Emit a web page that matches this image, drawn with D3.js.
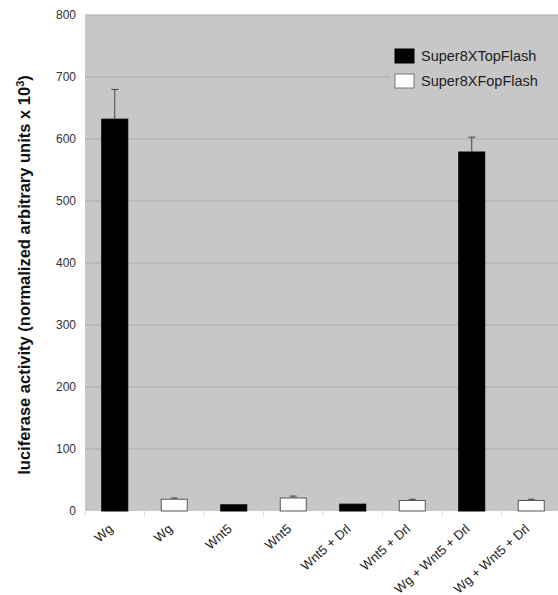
<!DOCTYPE html>
<html>
<head>
<meta charset="utf-8">
<script src="https://cdn.jsdelivr.net/npm/d3@7"></script>
<style>
  body { margin: 0; background: #fff; }
  svg { display: block; font-family: "Liberation Sans", Arial, sans-serif; }
</style>
</head>
<body>
<svg id="chart" width="558" height="595"></svg>
<script>
// data
const categories = ['Wg', 'Wg', 'Wnt5', 'Wnt5', 'Wnt5 + Drl', 'Wnt5 + Drl', 'Wg + Wnt5 + Drl', 'Wg + Wnt5 + Drl'];
const reporter = ['top', 'fop', 'top', 'fop', 'top', 'fop', 'top', 'fop'];
const values = [632, 19, 10, 21, 11, 17, 579, 17];
const errors = [48, 2, 0, 3, 0, 2, 24, 2];
const yTicks = [0, 100, 200, 300, 400, 500, 600, 700, 800];
const legendLabels = ['Super8XTopFlash', 'Super8XFopFlash'];

const svg = d3.select('#chart');
const margin = { left: 85, top: 15 };
const plotW = 476, plotH = 496;

const x = d3.scaleBand()
  .domain(d3.range(categories.length))
  .range([margin.left, margin.left + plotW]);
const y = d3.scaleLinear().domain([0, 800]).range([margin.top + plotH, margin.top]);

// plot background
svg.append('rect')
  .attr('x', margin.left).attr('y', margin.top)
  .attr('width', plotW).attr('height', plotH)
  .attr('fill', '#c7c7c7');

// gridlines
svg.append('g').selectAll('line')
  .data(yTicks.filter(d => d > 0))
  .enter().append('line')
  .attr('x1', margin.left).attr('x2', margin.left + plotW)
  .attr('y1', d => y(d)).attr('y2', d => y(d))
  .attr('stroke', '#ababab').attr('stroke-width', 1);

// y tick labels
svg.append('g').selectAll('text')
  .data(yTicks)
  .enter().append('text')
  .attr('x', 76).attr('y', d => y(d) + 4)
  .attr('text-anchor', 'end')
  .attr('font-size', 12)
  .attr('fill', '#333')
  .text(d => d);

// x axis ticks at band boundaries
svg.append('g').selectAll('line')
  .data(d3.range(categories.length + 1))
  .enter().append('line')
  .attr('x1', i => margin.left + i * x.step()).attr('x2', i => margin.left + i * x.step())
  .attr('y1', y(0)).attr('y2', y(0) + 5)
  .attr('stroke', '#ddd');

// bars
const barW = 26;
svg.append('g').selectAll('rect')
  .data(values)
  .enter().append('rect')
  .attr('x', (d, i) => x(i) + x.bandwidth() / 2 - barW / 2)
  .attr('y', d => y(d))
  .attr('width', barW)
  .attr('height', d => y(0) - y(d))
  .attr('fill', (d, i) => reporter[i] === 'top' ? '#000' : '#fff')
  .attr('stroke', (d, i) => reporter[i] === 'top' ? '#000' : '#555')
  .attr('stroke-width', 1);

// error bars
const eb = svg.append('g').attr('stroke', '#444').attr('stroke-width', 1);
values.forEach((v, i) => {
  if (!errors[i]) return;
  const cx = x(i) + x.bandwidth() / 2;
  eb.append('line').attr('x1', cx).attr('x2', cx).attr('y1', y(v)).attr('y2', y(v + errors[i]));
  eb.append('line').attr('x1', cx - 3.5).attr('x2', cx + 3.5).attr('y1', y(v + errors[i])).attr('y2', y(v + errors[i]));
});

// x labels
svg.append('g').selectAll('text')
  .data(categories)
  .enter().append('text')
  .attr('transform', (d, i) => `translate(${x(i) + x.bandwidth() / 2 - 1},${y(0) + 19}) rotate(-42)`)
  .attr('text-anchor', 'end')
  .attr('font-size', 13)
  .attr('fill', '#222')
  .text(d => d);

// y axis title
const yt = svg.append('text')
  .attr('transform', `translate(30,${margin.top + plotH / 2 + 12}) rotate(-90)`)
  .attr('text-anchor', 'middle')
  .attr('font-size', 16.5)
  .attr('font-weight', 'bold')
  .attr('fill', '#111');
yt.append('tspan').text('luciferase activity (normalized arbitrary units x 10');
yt.append('tspan').attr('font-size', 11).attr('dy', -6).text('3');
yt.append('tspan').attr('dy', 6).text(')');

// legend
const lg = svg.append('g');
lg.append('rect').attr('x', 390).attr('y', 42).attr('width', 168).attr('height', 56).attr('fill', '#c7c7c7');
legendLabels.forEach((t, i) => {
  lg.append('rect')
    .attr('x', 395).attr('y', 49 + i * 25)
    .attr('width', 19).attr('height', 14)
    .attr('fill', i === 0 ? '#000' : '#fff')
    .attr('stroke', i === 0 ? '#000' : '#777');
  lg.append('text')
    .attr('x', 421).attr('y', 61 + i * 25)
    .attr('font-size', 14.5)
    .attr('fill', '#222')
    .text(t);
});
</script>
</body>
</html>
